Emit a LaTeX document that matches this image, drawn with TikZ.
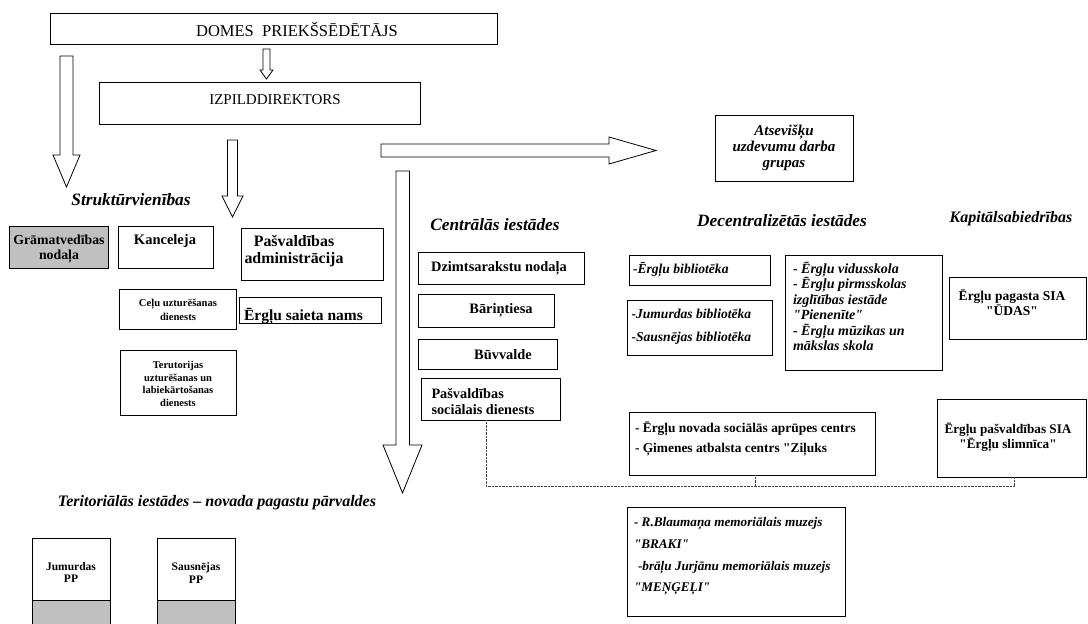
\documentclass[tikz,border=0pt]{standalone}
\usepackage{fontspec}
\setmainfont{Liberation Serif}[Ligatures=TeXOff]
\usetikzlibrary{fit}
\newcommand\fs[2]{\fontsize{#1}{#2}\selectfont}
\definecolor{grayfill}{RGB}{192,192,192}
\tikzset{
  box/.style={draw, line width=0.8pt, inner sep=0pt},
  graybox/.style={box, fill=grayfill},
  blockarrow/.style={draw, line width=0.8pt, fill=white, line join=miter},
  txt/.style={inner sep=0pt, outer sep=0pt},
  bt/.style={txt, font=\bfseries\fs{#1}{#1}},
  bit/.style={txt, font=\bfseries\itshape\fs{#1}{#1}},
  dotline/.style={line width=0.7pt, dash pattern=on 0.7pt off 0.7pt, draw=black!75},
}
\begin{document}
\begin{tikzpicture}[x=1pt,y=-1pt]
\useasboundingbox (0,0) rectangle (1088,624);
\fill[white] (0,0) rectangle (1088,624);

% top boxes
\node[box, fit={(50,13) (497,44)}] (domes) {};
\node[txt, font=\fs{16.5}{20}] (domes-t) at (297,29.5) {DOMES\ \ PRIEKŠSĒDĒTĀJS};
\node[box, fit={(99,82) (420,124)}] (izp) {};
\node[txt, font=\fs{15}{18}] (izp-t) at (275,100) {IZPILDDIREKTORS};

% block arrows
\draw[blockarrow] (263,49) -- (270,49) -- (270,70) -- (273,70) -- (266.5,79) -- (260,70) -- (263,70) -- cycle;
\draw[blockarrow] (60,56) -- (73,56) -- (73,155) -- (80,155) -- (66.5,187) -- (53,155) -- (60,155) -- cycle;
\draw[blockarrow] (227.5,140) -- (237.5,140) -- (237.5,196) -- (243,196) -- (232.5,217) -- (222,196) -- (227.5,196) -- cycle;
\draw[blockarrow] (381,144) -- (609,144) -- (609,137) -- (656,150.5) -- (609,164) -- (609,157) -- (381,157) -- cycle;
\draw[blockarrow] (396,171) -- (409.5,171) -- (409.5,445) -- (422,445) -- (402.5,493) -- (383,445) -- (396,445) -- cycle;

% headings
\node[bit=17.3] (h-struk) at (131,200) {Struktūrvienības};
\node[bit=17.3] (h-centr) at (495,225) {Centrālās iestādes};
\node[bit=17.3] (h-decen) at (782,221) {Decentralizētās iestādes};
\node[bit=16] (h-kapit) at (1011,219) {Kapitālsabiedrības};
\node[bit=16] (h-terit) at (217,503) {Teritoriālās iestādes – novada pagastu pārvaldes};

% Atsevisku
\node[box, fit={(715,115) (853,181)}] (ats) {};
\node[txt, align=center, font=\bfseries\itshape\fs{15}{16}] (ats-t) at (784,147.6) {Atsevišķu\\uzdevumu darba\\grupas};

% Strukturvienibas boxes
\node[graybox, fit={(9,226) (108,268)}] (gram) {};
\node[txt, align=center, font=\bfseries\fs{13.8}{15}] (gram-t) at (59,249.2) {Grāmatvedības\\nodaļa};
\node[box, fit={(118,226) (213,268)}] (kanc) {};
\node[bt=14.5] (kanc-t) at (165,241.5) {Kanceleja};
\node[box, fit={(241,228) (383,280)}] (padm) {};
\node[txt, align=center, font=\bfseries\fs{15.9}{17}] (padm-t) at (294,251.5) {Pašvaldības\\administrācija};
\node[box, fit={(119,289) (236,329)}] (celu) {};
\node[txt, align=center, font=\bfseries\fs{10.6}{13.5}] (celu-t) at (178,310) {Ceļu uzturēšanas\\dienests};
\begin{scope}
\clip (239,297) rectangle (381,323);
\node[txt, anchor=base, font=\bfseries\fs{15.5}{17}] (ersn-t) at (303.5,320.5) {Ērgļu saieta nams};
\end{scope}
\node[box, fit={(239,297) (381,323)}] (ersn) {};
\node[box, fit={(120,350) (236,415)}] (teru) {};
\node[txt, align=center, font=\bfseries\fs{10.5}{12.7}] (teru-t) at (178,384) {Terutorijas\\uzturēšanas un\\labiekārtošanas\\dienests};

% Centralas iestades
\node[box, fit={(418,252.5) (584,284)}] (dzim) {};
\node[bt=14.4] (dzim-t) at (499,268) {Dzimtsarakstu nodaļa};
\node[box, fit={(418,294.5) (554,327)}] (bari) {};
\node[bt=14.4] (bari-t) at (501,310.7) {Bāriņtiesa};
\node[box, fit={(418,339) (557.5,369.5)}] (buvv) {};
\node[bt=14.4] (buvv-t) at (503,355) {Būvvalde};
\node[box, fit={(421,378.5) (560.5,420)}] (psoc) {};
\node[txt, anchor=west, align=left, font=\bfseries\fs{14.3}{15.5}] (psoc-t) at (431.5,401.5) {Pašvaldības\\sociālais dienests};

% Decentralizetas
\node[box, fit={(629,255) (770,285.5)}] (ebib) {};
\node[bit=13.6, anchor=west] (ebib-t) at (633,269.5) {-Ērgļu bibliotēka};
\node[box, fit={(627,300) (772,355)}] (jsbib) {};
\node[txt, anchor=west, align=left, font=\bfseries\itshape\fs{13.6}{23.5}] (jsbib-t) at (631.5,326.8) {-Jumurdas bibliotēka\\-Sausnējas bibliotēka};
\node[box, fit={(785,255) (942,370)}] (skol) {};
\node[txt, anchor=west, align=left, font=\bfseries\itshape\fs{14}{15.4}] (skol-t) at (793,306.5) {- Ērgļu vidusskola\\- Ērgļu pirmsskolas\\izglītības iestāde\\"Pienenīte"\\- Ērgļu mūzikas un\\mākslas skola};

% Kapitalsabiedribas
\node[box, fit={(949,277) (1086,339)}] (udas) {};
\node[txt, align=center, font=\bfseries\fs{13.5}{14}] (udas-t) at (1012,303) {Ērgļu pagasta SIA\\"ŪDAS"};
\node[box, fit={(937,399) (1086,477)}] (slim) {};
\node[txt, align=center, font=\bfseries\fs{13.2}{15}] (slim-t) at (1008,437.5) {Ērgļu pašvaldības SIA\\"Ērgļu slimnīca"};

% social care and museums
\node[box, fit={(629,412) (875,475)}] (soca) {};
\node[txt, anchor=west, align=left, font=\bfseries\fs{13.4}{20}] (soca-t) at (635,439) {- Ērgļu novada sociālās aprūpes centrs\\- Ģimenes atbalsta centrs "Ziļuks};
\node[box, fit={(627,507) (845,616)}] (muz) {};
\node[txt, anchor=west, align=left, font=\bfseries\itshape\fs{13.2}{21.7}] (muz-t) at (634,556.5) {- R.Blaumaņa memoriālais muzejs\\"BRAKI"\\\hspace{4pt}-brāļu Jurjānu memoriālais muzejs\\"MEŅĢEĻI"};

% dotted connectors
\coordinate (d1) at (486,486);
\coordinate (d2) at (755,486);
\coordinate (d3) at (1014,486);
\draw[dotline] (psoc.south -| d1) -- (d1) -- (d3) -- (slim.south -| d3);
\draw[dotline] (soca.south -| d2) -- (d2);

% territorial
\node[box, fit={(32,538) (110,600)}] (jum) {};
\node[graybox, fit={(32,600) (110,634)}] (jumg) {};
\node[txt, align=center, font=\bfseries\fs{11.5}{12.5}] (jum-t) at (71,572.5) {Jumurdas\\PP};
\node[box, fit={(157,538) (235,600)}] (saus) {};
\node[graybox, fit={(157,600) (235,634)}] (sausg) {};
\node[txt, align=center, font=\bfseries\fs{11.5}{12.5}] (saus-t) at (196,573) {Sausnējas\\PP};
\end{tikzpicture}
\end{document}
